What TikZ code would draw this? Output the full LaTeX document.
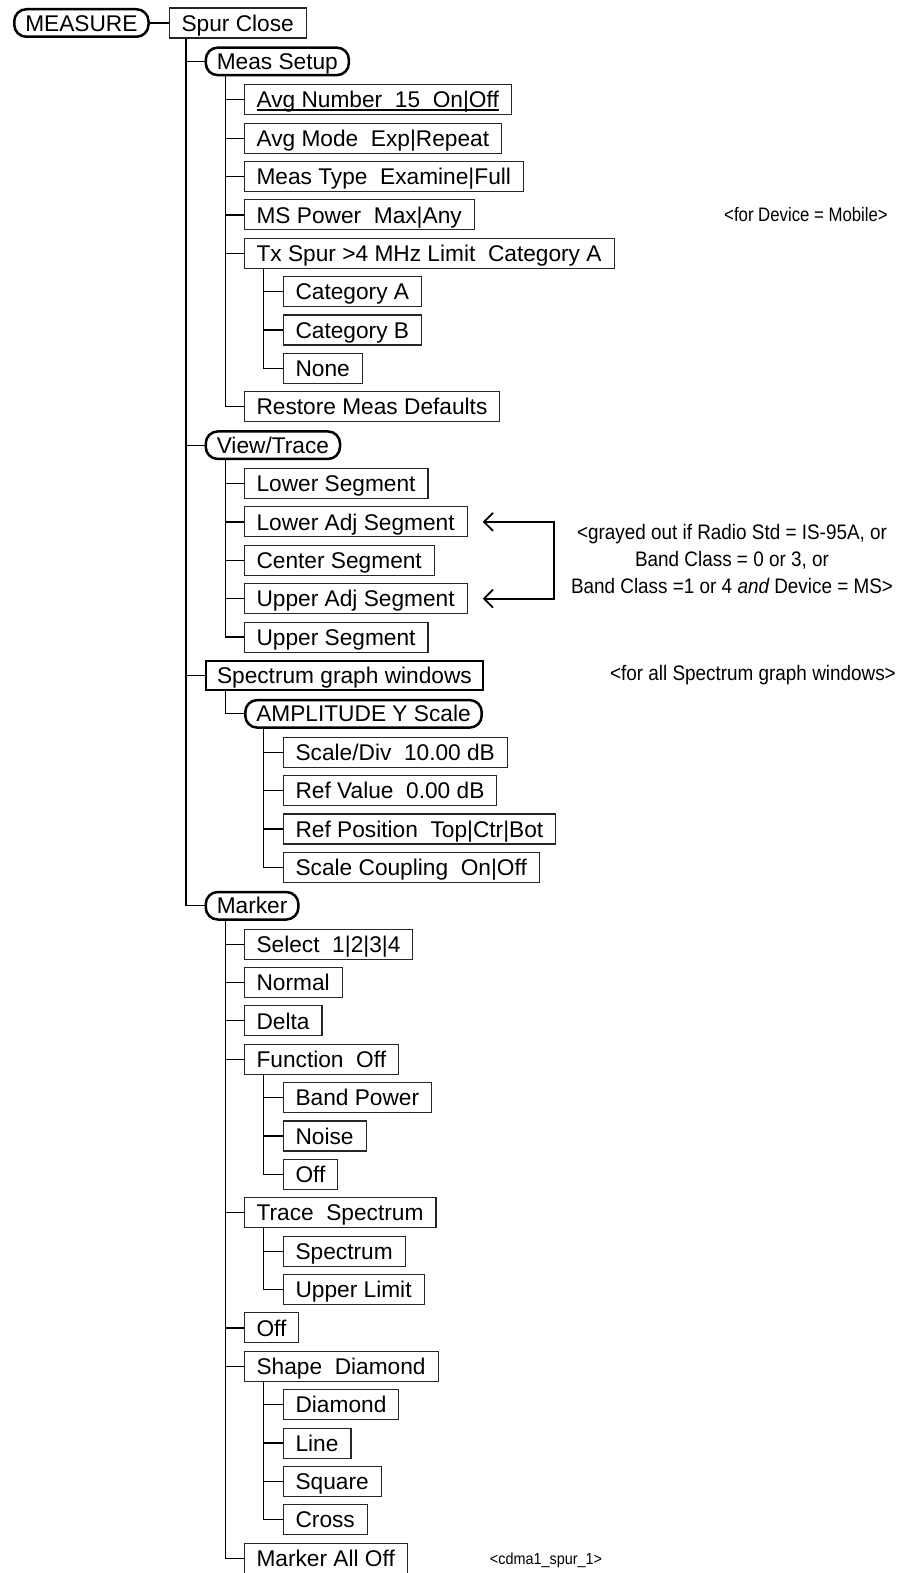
\documentclass[tikz,border=0pt]{standalone}
\usepackage{fontspec}
\setmainfont{Liberation Sans}
\newfontfamily\narrowfont[FakeStretch=0.9]{Liberation Sans}
\newfontfamily\devfont[FakeStretch=0.86]{Liberation Sans}
\usetikzlibrary{arrows.meta}
\newcommand\myul[1]{\setbox0\hbox{#1}\rlap{\rule[-2.6pt]{\wd0}{1.3pt}}\box0}
\begin{document}
\begin{tikzpicture}[x=1pt,y=-1pt,
  menu/.style={draw=black!85, line width=1.1pt, rectangle, anchor=west, inner xsep=12.5pt, inner ysep=0pt,
    minimum height=30pt, text height=16.3pt, text depth=0pt, font=\fontsize{22.7pt}{27pt}\selectfont},
  keybox/.style={menu, draw=black, line width=2.5pt, rounded corners=12pt, minimum height=27.5pt, inner xsep=11pt},
  boldbox/.style={menu, draw=black, line width=2pt, minimum height=29.5pt, inner xsep=11.5pt},
  conn/.style={draw=black, line width=1.2pt},
  note/.style={font=\narrowfont\fontsize{21pt}{27pt}\selectfont, align=center, inner sep=0pt},
  barb/.tip={Straight Barb[length=9pt,width=18pt]},
]
\useasboundingbox (0,0) rectangle (900,1573);

% root
\node[keybox] (meas) at (13,23) {MEASURE};
\node[menu] (sc) at (168.5,23) {Spur Close};

% level 1
\node[keybox] (ms) at (204.5,23+38.38*1) {Meas Setup};
\node[keybox] (vt) at (204.5,23+38.38*11) {View/Trace};
\node[boldbox] (sg) at (204.5,23+38.38*17) {Spectrum graph windows};
\node[keybox] (mk) at (204.5,23+38.38*23) {Marker};

% Meas Setup
\node[menu] (an) at (243.5,23+38.38*2) {\myul{Avg Number\ \ 15\ \ On|Off}};
\node[menu] (am) at (243.5,23+38.38*3) {Avg Mode\ \ Exp|Repeat};
\node[menu] (mt) at (243.5,23+38.38*4) {Meas Type\ \ Examine|Full};
\node[menu] (mp) at (243.5,23+38.38*5) {MS Power\ \ Max|Any};
\node[menu] (tx) at (243.5,23+38.38*6) {Tx Spur >4 MHz Limit\ \ Category A};
\node[menu] (ca) at (282.5,23+38.38*7) {Category A};
\node[menu] (cb) at (282.5,23+38.38*8) {Category B};
\node[menu] (cn) at (282.5,23+38.38*9) {None};
\node[menu] (rd) at (243.5,23+38.38*10) {Restore Meas Defaults};

% View/Trace
\node[menu] (ls) at (243.5,23+38.38*12) {Lower Segment};
\node[menu] (las) at (243.5,23+38.38*13) {Lower Adj Segment};
\node[menu] (cs) at (243.5,23+38.38*14) {Center Segment};
\node[menu] (uas) at (243.5,23+38.38*15) {Upper Adj Segment};
\node[menu] (us) at (243.5,23+38.38*16) {Upper Segment};

% Spectrum graph windows
\node[keybox] (amp) at (244,23+38.38*18) {AMPLITUDE Y Scale};
\node[menu] (sd) at (282.5,23+38.38*19) {Scale/Div\ \ 10.00 dB};
\node[menu] (rv) at (282.5,23+38.38*20) {Ref Value\ \ 0.00 dB};
\node[menu] (rp) at (282.5,23+38.38*21) {Ref Position\ \ Top|Ctr|Bot};
\node[menu] (scp) at (282.5,23+38.38*22) {Scale Coupling\ \ On|Off};

% Marker
\node[menu] (sel) at (243.5,23+38.38*24) {Select\ \ 1|2|3|4};
\node[menu] (nor) at (243.5,23+38.38*25) {Normal};
\node[menu] (del) at (243.5,23+38.38*26) {Delta};
\node[menu] (fo) at (243.5,23+38.38*27) {Function\ \ Off};
\node[menu] (bp) at (282.5,23+38.38*28) {Band Power};
\node[menu] (noi) at (282.5,23+38.38*29) {Noise};
\node[menu] (fof) at (282.5,23+38.38*30) {Off};
\node[menu] (ts) at (243.5,23+38.38*31) {Trace\ \ Spectrum};
\node[menu] (spc) at (282.5,23+38.38*32) {Spectrum};
\node[menu] (ul) at (282.5,23+38.38*33) {Upper Limit};
\node[menu] (moff) at (243.5,23+38.38*34) {Off};
\node[menu] (sh) at (243.5,23+38.38*35) {Shape\ \ Diamond};
\node[menu] (dia) at (282.5,23+38.38*36) {Diamond};
\node[menu] (lin) at (282.5,23+38.38*37) {Line};
\node[menu] (sq) at (282.5,23+38.38*38) {Square};
\node[menu] (cr) at (282.5,23+38.38*39) {Cross};
\node[menu] (mao) at (243.5,23+38.38*40) {Marker All Off};

% connectors
\draw[conn] (meas.east) -- (sc.west);
\foreach \c in {ms,vt,sg,mk} \draw[conn] ([xshift=17.5pt]sc.south west) |- (\c.west);
\foreach \c in {an,am,mt,mp,tx,rd} \draw[conn] ([xshift=21pt]ms.south west) |- (\c.west);
\foreach \c in {ca,cb,cn} \draw[conn] ([xshift=20pt]tx.south west) |- (\c.west);
\foreach \c in {ls,las,cs,uas,us} \draw[conn] ([xshift=21pt]vt.south west) |- (\c.west);
\draw[conn] ([xshift=21pt]sg.south west) |- (amp.west);
\foreach \c in {sd,rv,rp,scp} \draw[conn] ([xshift=19.5pt]amp.south west) |- (\c.west);
\foreach \c in {sel,nor,del,fo,ts,moff,sh,mao} \draw[conn] ([xshift=21pt]mk.south west) |- (\c.west);
\foreach \c in {bp,noi,fof} \draw[conn] ([xshift=20pt]fo.south west) |- (\c.west);
\foreach \c in {spc,ul} \draw[conn] ([xshift=20pt]ts.south west) |- (\c.west);
\foreach \c in {dia,lin,sq,cr} \draw[conn] ([xshift=20pt]sh.south west) |- (\c.west);

% notes
\node[anchor=east, inner sep=0pt, font=\devfont\fontsize{19.5pt}{23pt}\selectfont] (ndev) at (888,23+38.38*5) {<for Device = Mobile>};
\node[note] (ngray) at (732,559) {<grayed out if Radio Std = IS-95A, or\\Band Class = 0 or 3, or\\Band Class =1 or 4 {\itshape and} Device = MS>};
\node[note, anchor=east] (nspec) at (896,23+38.38*17) {<for all Spectrum graph windows>};
\node[note, font=\narrowfont\fontsize{16pt}{19pt}\selectfont] (ncode) at (546,1560) {<cdma1\_spur\_1>};

% bracket arrows
\draw[line width=1.8pt, barb-barb] ([xshift=15pt]las.east) -- ++(71pt,0) |- ([xshift=15pt]uas.east);
\end{tikzpicture}
\end{document}
